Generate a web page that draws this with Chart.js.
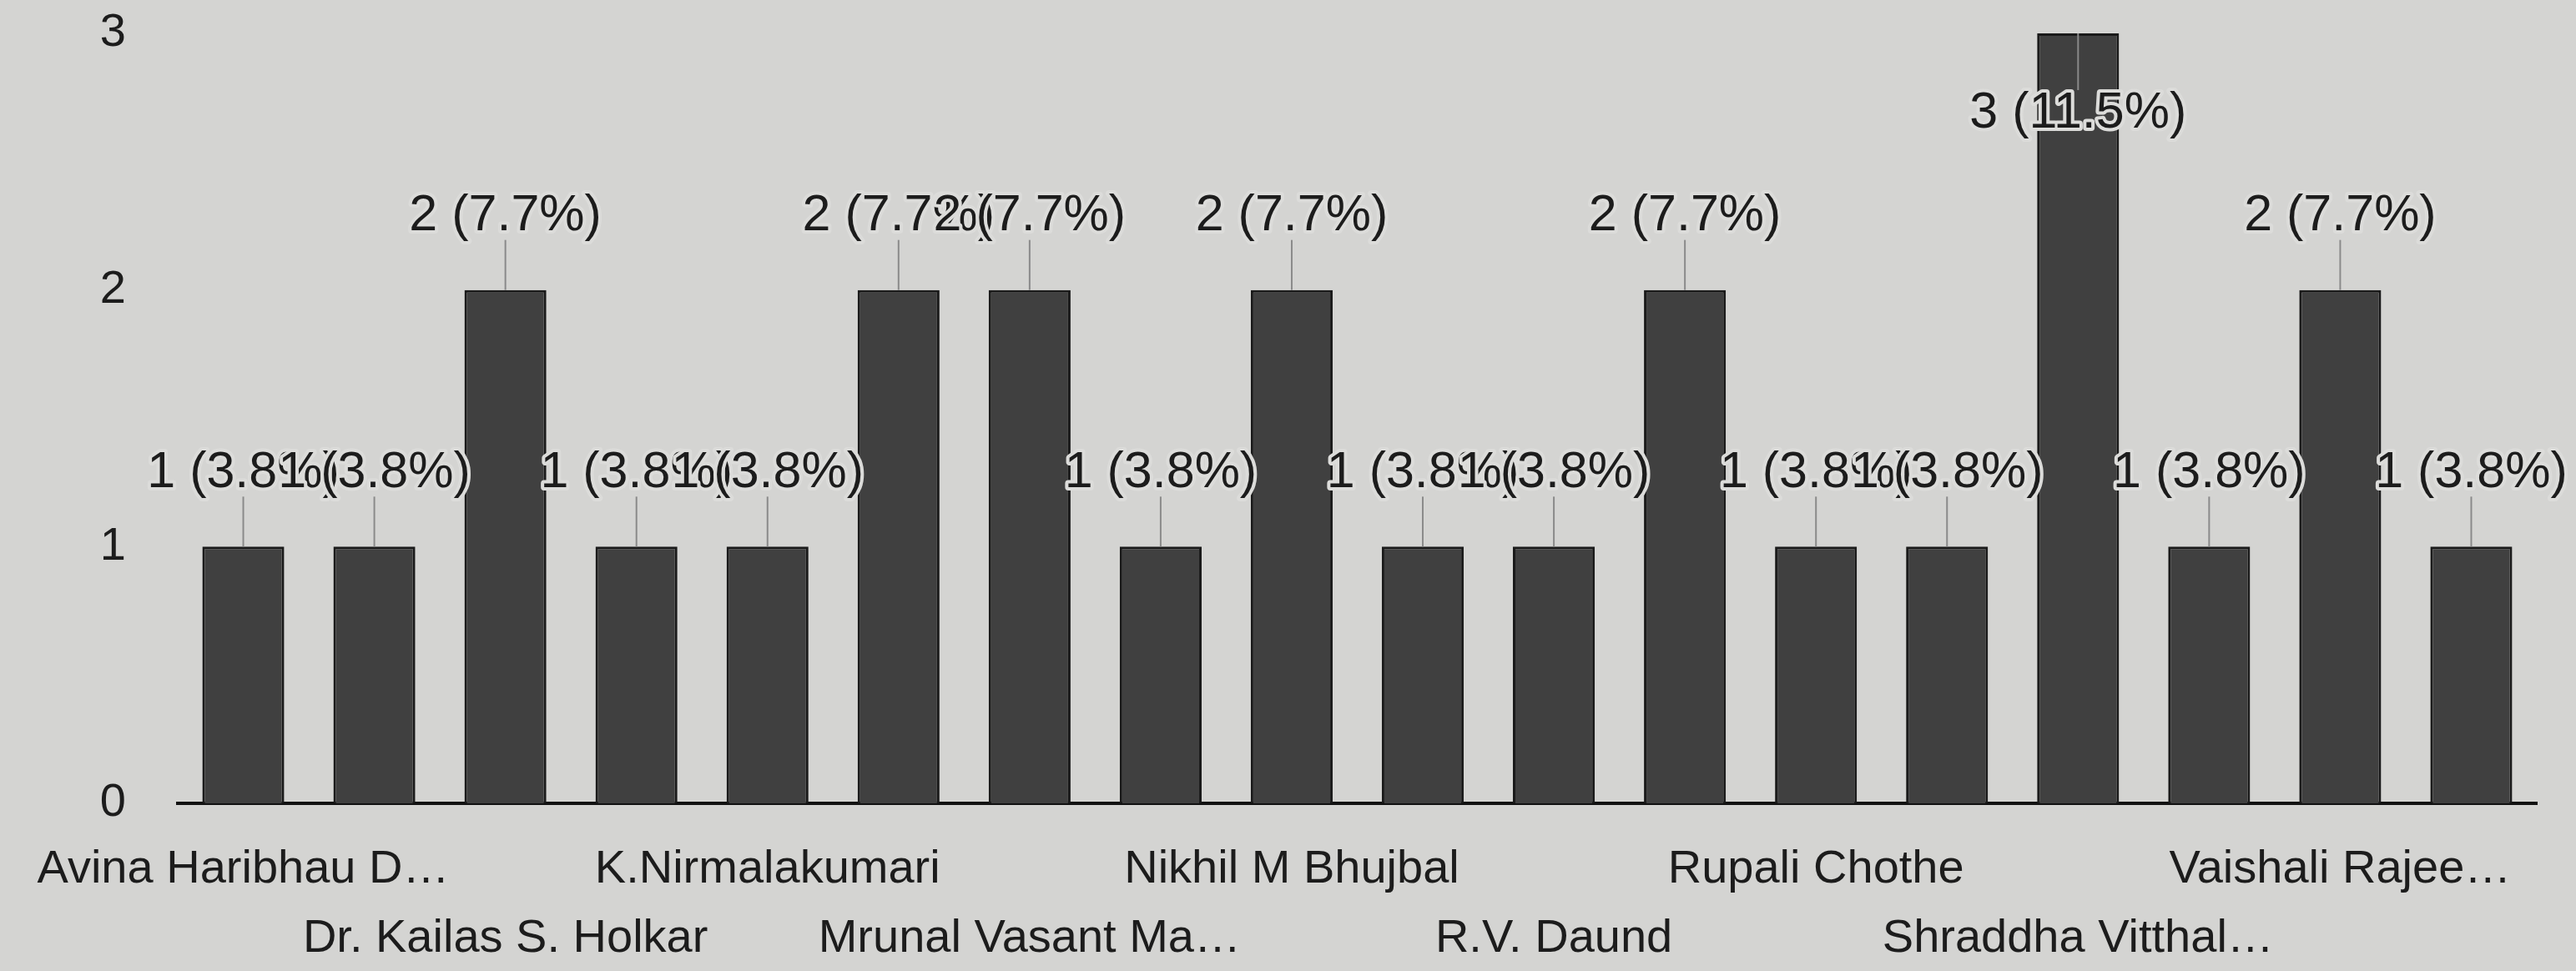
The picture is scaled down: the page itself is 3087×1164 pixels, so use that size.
<!DOCTYPE html>
<html>
<head>
<meta charset="utf-8">
<script src="https://cdn.jsdelivr.net/npm/chart.js@4.4.1/dist/chart.umd.min.js"></script>
<style>
  html, body { margin: 0; padding: 0; background: #d4d4d2; }
  canvas { display: block; }
</style>
</head>
<body>
<canvas id="responseChart" width="3087" height="1164"></canvas>
<script>
// Only every other name is printed on the axis, the rest are left blank
const categories = [
  'Avina Haribhau D\u2026', '', 'Dr. Kailas S. Holkar', '', 'K.Nirmalakumari', '',
  'Mrunal Vasant Ma\u2026', '', 'Nikhil M Bhujbal', '', 'R.V. Daund', '',
  'Rupali Chothe', '', 'Shraddha Vitthal\u2026', '', 'Vaishali Rajee\u2026', ''
];
const counts = [1, 1, 2, 1, 1, 2, 2, 1, 2, 1, 1, 2, 1, 1, 3, 1, 2, 1];
const yTicks = [0, 1, 2, 3];

const TEXT = '#1c1c1c';
const FONT = '"Liberation Sans", Arial, sans-serif';

const total = counts.reduce((a, b) => a + b, 0);

/**
 * Draws "n (p%)" above each bar with a short stem, like the annotations
 */
const annotationPlugin = {
  id: 'annotations',
  afterDatasetsDraw(chart) {
    const ctx = chart.ctx;
    const meta = chart.getDatasetMeta(0);
    const top = chart.chartArea.top;
    ctx.save();
    ctx.font = '61px ' + FONT;
    ctx.textAlign = 'center';
    ctx.textBaseline = 'middle';
    meta.data.forEach((bar, i) => {
      const v = counts[i];
      const text = v + ' (' + (v / total * 100).toFixed(1) + '%)';
      let cy, stemFrom, stemTo;
      if (bar.y - 120 < top) {
        // no room above, put it inside the bar
        cy = bar.y + 96;
        stemFrom = bar.y;
        stemTo = cy - 28;
      } else {
        cy = bar.y - 88;
        stemFrom = bar.y;
        stemTo = bar.y - 60;
      }
      ctx.strokeStyle = '#8a8a8a';
      ctx.lineWidth = 2;
      ctx.beginPath();
      ctx.moveTo(bar.x, stemFrom);
      ctx.lineTo(bar.x, stemTo);
      ctx.stroke();

      ctx.lineJoin = 'round';
      ctx.lineWidth = 8;
      ctx.strokeStyle = '#dcdcda';
      ctx.strokeText(text, bar.x, cy);
      ctx.fillStyle = TEXT;
      ctx.fillText(text, bar.x, cy);
    });
    ctx.restore();
  }
};

const ctx = document.getElementById('responseChart').getContext('2d');

new Chart(ctx, {
  type: 'bar',
  data: {
    labels: categories,
    datasets: [{
      data: counts,
      backgroundColor: '#404040',
      borderColor: '#1a1a1a',
      borderWidth: 3,
      borderSkipped: 'bottom',
      categoryPercentage: 1,
      barPercentage: 0.625
    }]
  },
  options: {
    responsive: false,
    animation: false,
    devicePixelRatio: 1,
    layout: {
      padding: { top: 0, right: 47, bottom: 0, left: 0 }
    },
    plugins: {
      legend: { display: false },
      tooltip: { enabled: false }
    },
    scales: {
      x: {
        grid: { display: false },
        border: { display: true, color: '#111', width: 4 },
        afterFit: function(scale) {
          scale.height = 201;
        },
        ticks: {
          autoSkip: false,
          maxRotation: 0,
          minRotation: 0,
          padding: 30,
          color: TEXT,
          font: { family: FONT, size: 56, lineHeight: 1.48 },
          callback: function(value, index) {
            const name = categories[index];
            if (!name) return ['', ''];
            return index % 4 === 0 ? [name, ''] : ['', name];
          }
        }
      },
      y: {
        min: yTicks[0],
        max: yTicks[yTicks.length - 1],
        grid: { display: false },
        border: { display: false },
        afterFit: function(scale) {
          scale.width = 213;
          scale.paddingTop = 40;
          scale.paddingBottom = 0;
        },
        afterBuildTicks: function(scale) {
          scale.ticks = yTicks.map(v => ({ value: v }));
        },
        ticks: {
          padding: 54,
          color: TEXT,
          font: { family: FONT, size: 56 }
        }
      }
    }
  },
  plugins: [annotationPlugin]
});
</script>
</body>
</html>
